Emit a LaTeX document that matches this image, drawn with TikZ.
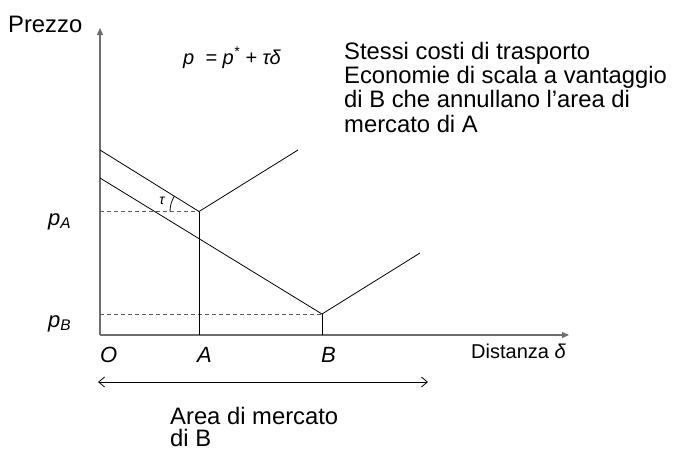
\documentclass[tikz,border=0pt]{standalone}
\usepackage{fontspec}
\setmainfont{Liberation Sans}
\usetikzlibrary{arrows.meta,positioning}
\definecolor{assiGrigio}{HTML}{6E6E6E}
\definecolor{guidaGrigio}{HTML}{5A5A5A}

\begin{document}
\begin{tikzpicture}[x=1pt, y=-1pt,
  asse/.style={assiGrigio, line width=1.4pt, -{Triangle[length=7pt,width=6pt]}},
  retta/.style={black, line width=0.8pt},
  guida/.style={guidaGrigio, line width=0.8pt, dash pattern=on 4pt off 3pt},
  etic/.style={inner sep=0pt, anchor=base west, font=\fontsize{22}{24}\selectfont\itshape},
  testo/.style={inner sep=0pt, anchor=base west, align=left, font=\fontsize{23.8}{24.3}\selectfont}]
\useasboundingbox (0,0) rectangle (674,459);
% punti del grafico
\coordinate (O) at (100,335);
\coordinate (ytop) at (100,28);
\coordinate (xend) at (569,335);
\coordinate (pa) at (199,211.5);
\coordinate (pb) at (322,314);
\coordinate (a0) at (100,150);
\coordinate (a1) at (298,150);
\coordinate (b0) at (100,178);
\coordinate (b1) at (420,253);
\coordinate (xa) at (199,335);
\coordinate (xb) at (322,335);
\coordinate (ya) at (100,211.5);
\coordinate (yb) at (100,314);
% assi
\draw[asse] (O) -- (ytop);
\draw[asse] (O) -- (xend);
% rette di prezzo
\draw[guida] (ya) -- (pa);
\draw[guida] (yb) -- (pb);
\draw[retta] (a0) -- (pa) -- (a1);
\draw[retta] (b0) -- (pb) -- (b1);
\draw[retta] (pa) -- (xa);
\draw[retta] (pb) -- (xb);
\draw[retta] (pa) ++(180:29) arc[start angle=180, end angle=212, radius=29];
\node[inner sep=0pt, font=\fontsize{14}{14}\selectfont\itshape] (tau) at (162,201) {τ};
% etichette (base = ultima riga)
\node[testo] (prezzo) at (8,32) {Prezzo};
\node[etic, font=\fontsize{20}{20}\selectfont\itshape] (formula) at (183,64) {p\ \ = p\textsuperscript{*} + τδ};
\node[testo] (nota) at (344,132) {Stessi costi di trasporto\\Economie di scala a vantaggio\\di B che annullano l’area di\\mercato di A};
\node[etic] (lpa) at (48,225) {p\textsubscript{A}};
\node[etic] (lpb) at (48,327) {p\textsubscript{B}};
\node[etic] (lO) at (100,362) {O};
\node[etic] (lA) at (197,362) {A};
\node[etic] (lB) at (321,362) {B};
\node[inner sep=0pt, anchor=base west, font=\fontsize{20}{20}\selectfont] (dist) at (471,358) {Distanza \textit{δ}};
% area di mercato
\coordinate (areaL) at (98,382);
\coordinate (areaR) at (428,382);
\draw[retta, {Straight Barb[length=6pt,width=10pt]}-{Straight Barb[length=6pt,width=10pt]}] (areaL) -- (areaR);
\node[testo, font=\fontsize{23.8}{22}\selectfont] (area) at (170,446) {Area di mercato\\di B};
\end{tikzpicture}
\end{document}
